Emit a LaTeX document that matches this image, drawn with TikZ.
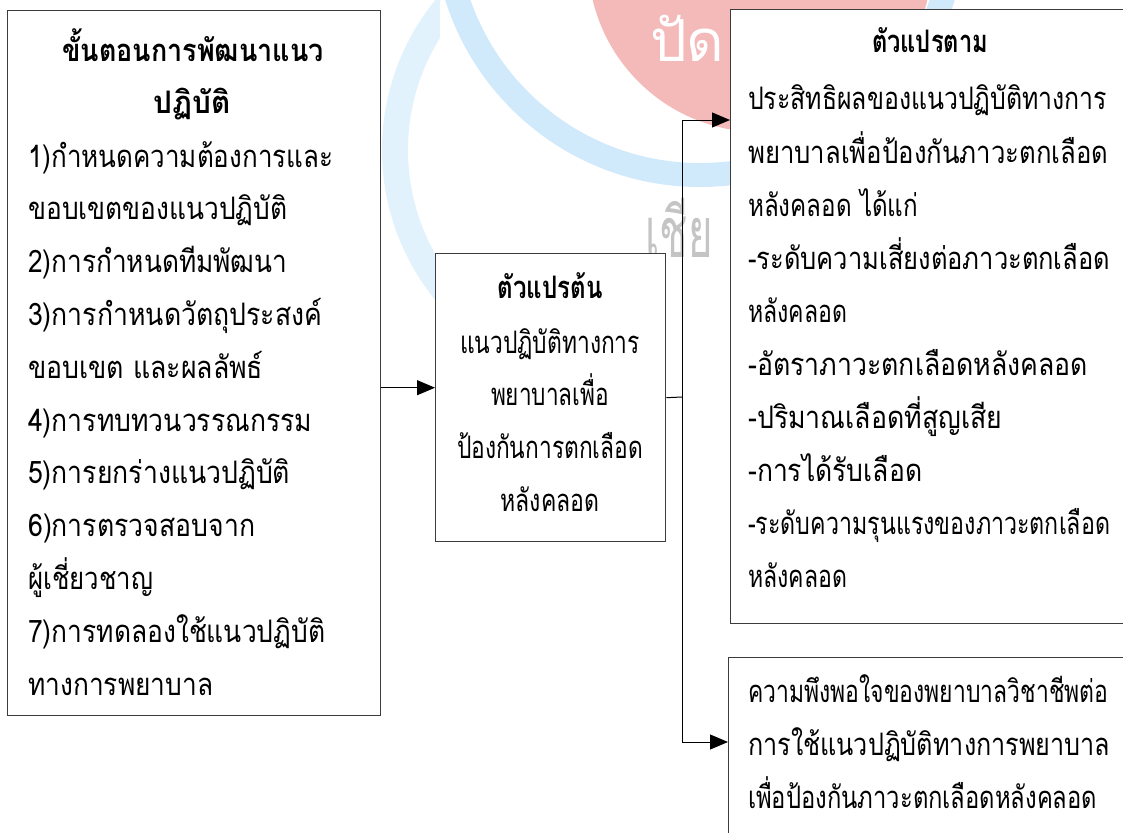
\documentclass[tikz,border=0pt]{standalone}
\usepackage{fontspec}
\newfontfamily\thai[Script=Thai]{Loma}
\usetikzlibrary{arrows.meta}
\definecolor{boxline}{RGB}{60,60,60}
\definecolor{wmblue}{RGB}{208,234,251}
\definecolor{wmblue2}{RGB}{226,242,252}
\definecolor{wmred}{RGB}{244,186,186}
\definecolor{wmgray}{RGB}{196,196,196}
\newcommand{\W}[2]{\resizebox{#1pt}{\height}{#2}}
\begin{document}
\begin{tikzpicture}[x=1pt,y=-1pt,
  box/.style={draw=boxline, line width=1.4pt, fill=white, inner sep=0pt, anchor=north west},
  txt/.style={font=\thai\fontsize{31}{34}\selectfont, inner sep=0pt, text=black},
  hd/.style={txt, font=\thai\bfseries\fontsize{31}{34}\selectfont},
  arr/.style={line width=1pt, -{Triangle[length=18pt,width=15pt]}},
  con/.style={line width=1pt}]
\useasboundingbox (0,0) rectangle (1123,832);
% watermark
\begin{scope}
\clip (0,0) rectangle (1123,832);
\begin{scope}
\clip (380,0) rectangle (440,400);
\draw[wmblue2, line width=26pt] (620,150) circle[radius=225pt];
\end{scope}
\draw[wmblue, line width=24pt] (700,-80) circle[radius=255pt];
\fill[wmred] (760,-40) circle[radius=172pt];
\node[font=\thai\fontsize{58}{60}\selectfont, text=white, inner sep=0pt, anchor=base west] (wm1) at (650,62) {ปัด};
\node[font=\thai\fontsize{70}{70}\selectfont, text=wmgray, inner sep=0pt, anchor=base west, xscale=0.6] (wm2) at (645,257) {เชีย};
\end{scope}
% boxes
\node[box, minimum width=373pt, minimum height=705pt] (lbox) at (7,10) {};
\node[box, minimum width=230pt, minimum height=288pt] (mbox) at (435,253) {};
\node[box, minimum width=400pt, minimum height=614pt] (rbox) at (730,9) {};
\node[box, minimum width=400pt, minimum height=220pt] (sbox) at (728,657) {};
% left box text
\node[hd, anchor=base] (lh1) at (193,62) {\W{261}{ขั้นตอนการพัฒนาแนว}};
\node[hd, anchor=base] (lh2) at (192,114) {\W{77}{ปฏิบัติ}};
\foreach \w/\t [count=\i] in {305/{1)กำหนดความต้องการและ},259/{ขอบเขตของแนวปฏิบัติ},259/{2)การกำหนดทีมพัฒนา},294/{3)การกำหนดวัตถุประสงค์},235/{ขอบเขต และผลลัพธ์},284/{4)การทบทวนวรรณกรรม},262/{5)การยกร่างแนวปฏิบัติ},227/{6)การตรวจสอบจาก},125/{ผู้เชี่ยวชาญ},297/{7)การทดลองใช้แนวปฏิบัติ},185/{ทางการพยาบาล}}
  \node[txt, anchor=base west] (l\i) at (28,{167+(\i-1)*52.8}) {\W{\w}{\t}};
% middle box text
\node[hd, anchor=base] (mh) at (550,298) {\W{105}{ตัวแปรต้น}};
\foreach \w/\t [count=\i] in {180/{แนวปฏิบัติทางการ},118/{พยาบาลเพื่อ},186/{ป้องกันการตกเลือด},99/{หลังคลอด}}
  \node[txt, anchor=base] (m\i) at (550,{353+(\i-1)*52.7}) {\W{\w}{\t}};
% right box text
\node[hd, anchor=base] (rh) at (930,53) {\W{116}{ตัวแปรตาม}};
\foreach \w/\t [count=\i] in {359/{ประสิทธิผลของแนวปฏิบัติทางการ},360/{พยาบาลเพื่อป้องกันภาวะตกเลือด},170/{หลังคลอด ได้แก่},362/{-ระดับความเสี่ยงต่อภาวะตกเลือด},99/{หลังคลอด},340/{-อัตราภาวะตกเลือดหลังคลอด},254/{-ปริมาณเลือดที่สูญเสีย},174/{-การได้รับเลือด},362/{-ระดับความรุนแรงของภาวะตกเลือด},99/{หลังคลอด}}
  \node[txt, anchor=base west] (r\i) at (748,{110+(\i-1)*53.1}) {\W{\w}{\t}};
% bottom box text
\foreach \w/\t [count=\i] in {360/{ความพึงพอใจของพยาบาลวิชาชีพต่อ},362/{การใช้แนวปฏิบัติทางการพยาบาล},349/{เพื่อป้องกันภาวะตกเลือดหลังคลอด}}
  \node[txt, anchor=base west] (s\i) at (748,{702+(\i-1)*53}) {\W{\w}{\t}};
% connectors
\coordinate (min) at ([yshift=10pt]mbox.west);
\draw[arr] (lbox.east |- min) -- (min);
\coordinate (j) at (682,397);
\coordinate (rin) at (rbox.west |- 0,120);
\coordinate (sin) at (sbox.west |- 0,742);
\draw[con] (mbox.east) -- (j);
\draw[arr] (j) |- (rin);
\draw[arr] (j) |- (sin);
\end{tikzpicture}
\end{document}
